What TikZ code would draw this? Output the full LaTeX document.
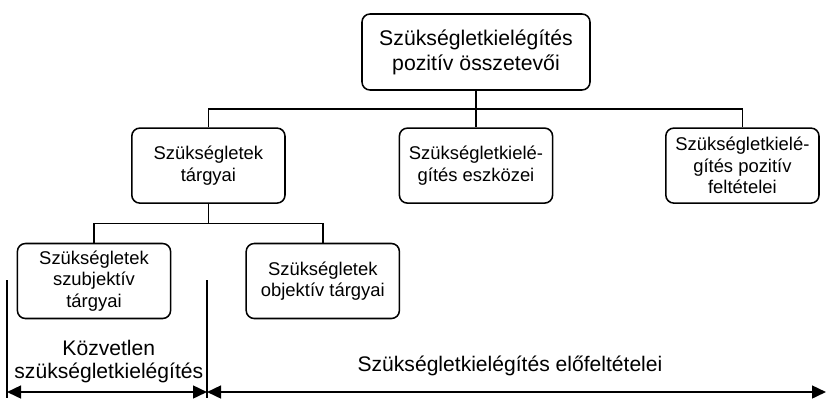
\documentclass[tikz,border=0pt]{standalone}
\usepackage{fontspec}
\setmainfont{Liberation Sans}
\usetikzlibrary{calc,arrows.meta}

\tikzset{rb/.style={main, minimum width=3.83cm, minimum height=1.875cm, font=\fontsize{13.1}{15.3}\selectfont}}
\tikzset{tb/.style={main, minimum width=5.7cm, minimum height=1.9cm, font=\fontsize{15.1}{17.7}\selectfont}}
\tikzset{lb/.style={align=center, inner sep=0pt, font=\fontsize{15}{16.4}\selectfont}}
\tikzset{dim/.style={line width=1.5pt, {Triangle[length=3.5mm,width=3.2mm]}-{Triangle[length=3.5mm,width=3.2mm]}}}

\begin{document}
\begin{tikzpicture}[node distance={28.4mm}, line width=1.1pt, main/.style={draw, rounded corners=2mm, align=center, inner sep=1pt}]
    \useasboundingbox (0,0) rectangle (20.65,-9.95);

    \node[tb] (0) at (11.9,-1.3) {Szükségletkielégítés\\pozitív összetevői};
    \node[rb] (2) [below of=0] {Szükségletkielé-\\gítés eszközei};
    \node[rb] (1) [left of=2, node distance=66.9mm] {Szükségletek\\tárgyai};
    \node[rb] (3) [right of=2, node distance=66.6mm] {Szükségletkielé-\\gítés pozitív\\feltételei};
    \node[rb] (4) [below of=1, xshift=-28.6mm, node distance=28.85mm] {Szükségletek\\szubjektív\\tárgyai};
    \node[rb] (5) [below of=1, xshift=28.6mm, node distance=28.85mm] {Szükségletek\\objektív tárgyai};

    \draw (0) -- (2);
    \draw (1.north) |- ($(0.south)!.5!(2.north)$) -| (3.north);
    \draw (1.south) -- ($(1.south)!.5!(1.south |- 5.north)$);
    \draw (4.north) |- ($(1.south)!.5!(5.north)$) -| (5.north);

    % hatarok
    \coordinate (a) at (0.175,-7.0);
    \coordinate (b) at (5.175,-7.0);
    \coordinate (a1) at (0.175,-9.95);
    \coordinate (b1) at (5.175,-9.95);
    \coordinate (c) at (20.65,-9.8);
    \draw (a) -- (a1);
    \draw (b) -- (b1);
    \draw[dim] (a |- c) -- (b |- c);
    \draw[dim] (b |- c) -- (c);

    \node[lb] (6) at (2.72,-9.03) {Közvetlen\\szükségletkielégítés};
    \node[lb] (7) at (12.75,-9.15) {Szükségletkielégítés előfeltételei};
\end{tikzpicture}
\end{document}
